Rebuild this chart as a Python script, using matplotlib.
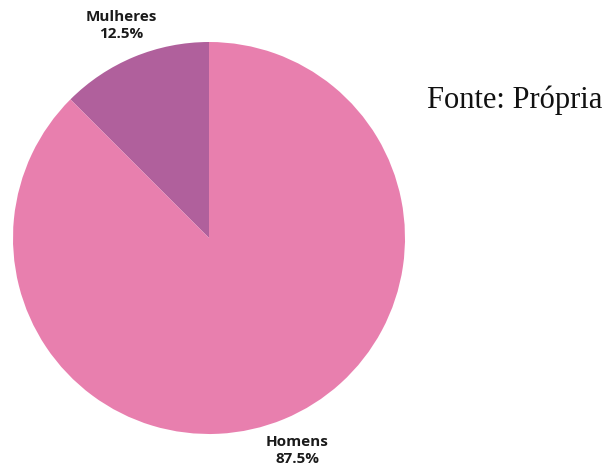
import matplotlib
matplotlib.use("Agg")
import matplotlib.pyplot as plt

categories = ["Mulheres", "Homens"]
values = [1, 7]
colors = ["#B0609C", "#E87FAE"]
source_text = "Fonte: Própria"

W, H = 608, 469
fig = plt.figure(figsize=(W / 100, H / 100), dpi=100)
cx, cy, r = 209, 238, 196
ax = fig.add_axes([(cx - r) / W, (H - cy - r) / H, 2 * r / W, 2 * r / H])

total = sum(values)
labels = [f"{c}\n{v / total * 100:.1f}%" for c, v in zip(categories, values)]
ax.pie(values, labels=labels, colors=colors, startangle=90, counterclock=True,
       labeldistance=1.175, radius=1,
       textprops=dict(ha="center", va="center", fontsize=11, fontweight="bold",
                      family="Open Sans", color="#1a1a1a", linespacing=1.25),
       wedgeprops=dict(linewidth=0))
ax.set_xlim(-1, 1)
ax.set_ylim(-1, 1)
ax.set_aspect("auto")

fig.text(427 / W, 1 - 108 / H, source_text, family="Liberation Serif", fontsize=22,
         ha="left", va="baseline", color="#111111")

fig.savefig("out.png", dpi=100)
